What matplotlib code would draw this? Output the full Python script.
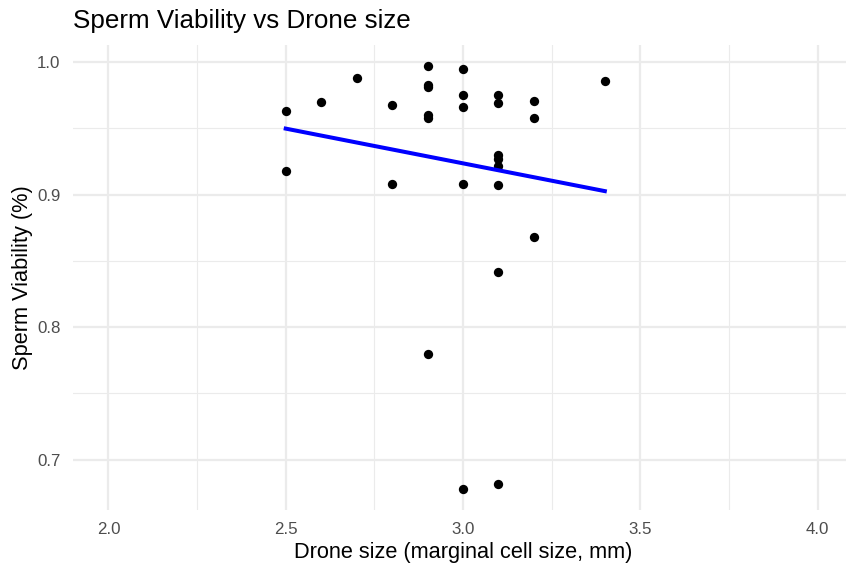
import numpy as np
import matplotlib
matplotlib.use("Agg")
import matplotlib.pyplot as plt
from matplotlib.ticker import FixedLocator

plt.rcParams['font.family'] = ['Liberation Sans', 'DejaVu Sans']

drone_size = [2.5, 2.5, 2.6, 2.7, 2.8, 2.8,
              2.9, 2.9, 2.9, 2.9, 2.9, 2.9,
              3.0, 3.0, 3.0, 3.0, 3.0,
              3.1, 3.1, 3.1, 3.1, 3.1, 3.1, 3.1, 3.1,
              3.2, 3.2, 3.2, 3.4]
viability = [0.963, 0.918, 0.970, 0.988, 0.968, 0.908,
             0.997, 0.983, 0.981, 0.960, 0.958, 0.780,
             0.995, 0.975, 0.966, 0.908, 0.678,
             0.975, 0.969, 0.930, 0.927, 0.922, 0.907, 0.842, 0.682,
             0.971, 0.958, 0.868, 0.986]
x_ticks = [2.0, 2.5, 3.0, 3.5, 4.0]
y_ticks = [0.7, 0.8, 0.9, 1.0]

x = np.array(drone_size)
y = np.array(viability)

W, H = 846, 565
fig = plt.figure(figsize=(W / 100, H / 100), dpi=100)
ax = fig.add_axes([73 / W, 1 - 510 / H, 780 / W, (510 - 45) / H])

ax.set_xlim(1.9, 4.1)
yr = y.max() - y.min()
ax.set_ylim(y.min() - 0.05 * yr, y.max() + 0.05 * yr)

ax.xaxis.set_major_locator(FixedLocator(x_ticks))
ax.yaxis.set_major_locator(FixedLocator(y_ticks))
ax.xaxis.set_minor_locator(FixedLocator([2.25, 2.75, 3.25, 3.75]))
ax.yaxis.set_minor_locator(FixedLocator([0.75, 0.85, 0.95]))
ax.set_xticklabels([f"{v:.1f}" for v in x_ticks])
ax.set_yticklabels([f"{v:.1f}" for v in y_ticks])

ax.grid(True, which='major', color='#EBEBEB', linewidth=1.6)
ax.grid(True, which='minor', color='#EBEBEB', linewidth=0.8)
ax.set_axisbelow(True)
for s in ax.spines.values():
    s.set_visible(False)
ax.tick_params(which='both', length=0)
ax.tick_params(axis='x', pad=9, labelsize=12.2, labelcolor='#4D4D4D')
ax.tick_params(axis='y', pad=9, labelsize=12.2, labelcolor='#4D4D4D')

ax.scatter(x, y, s=45, color='black', zorder=3, linewidths=0)

coef = np.polyfit(x, y, 1)
xs = np.linspace(x.min(), x.max(), 50)
ax.plot(xs, np.polyval(coef, xs), color='#0000FF', linewidth=2.9, zorder=4)

ax.set_xlabel("Drone size (marginal cell size, mm)", fontsize=15.7, labelpad=3)
ax.set_ylabel("Sperm Viability (%)", fontsize=15.7, labelpad=3)
fig.text(73 / W, 1 - 28 / H, "Sperm Viability vs Drone size", fontsize=18.7,
         ha='left', va='baseline')

fig.savefig("out.png", dpi=100)
